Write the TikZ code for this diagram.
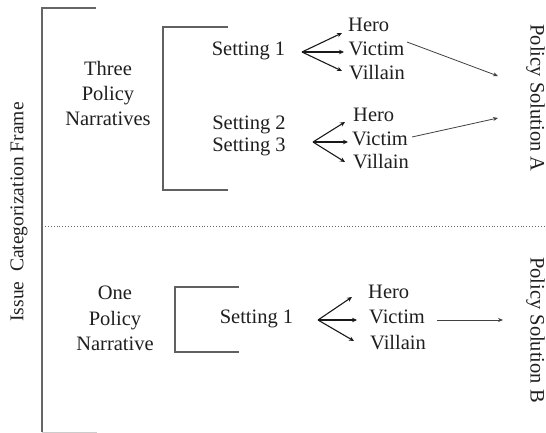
\documentclass[tikz,border=0pt]{standalone}
\usepackage{fontspec}
\setmainfont{Liberation Serif}
\usetikzlibrary{arrows.meta}
\begin{document}
\begin{tikzpicture}[x=1pt,y=-1pt,
  txt/.style={inner sep=0pt, text height=0.66em, text depth=0pt, font=\fontsize{20.5}{24}\selectfont, text=black!88},
  frameline/.style={draw=black!60, line width=1.6pt},
  bracket/.style={draw=black!62, line width=1.3pt},
  sep/.style={draw=black!60, line width=0.9pt, dotted},
  arr/.style={draw=black!90, line width=1.1pt, -{Stealth[length=5pt,width=4.5pt]}},
  longarr/.style={draw=black!75, line width=0.8pt, -{Stealth[length=5pt,width=4pt]}}]
\useasboundingbox (0,0) rectangle (546,433);
% frame
\coordinate (ft) at (96,8);
\coordinate (fc) at (42,8);
\coordinate (fb) at (42,432);
\coordinate (fe) at (97,432);
\draw[frameline] (ft) -- (fc) -- (fb);
\draw[draw=black!20, line width=1pt] (fb) -- (fe);
\node[txt, rotate=90, font=\fontsize{19.5}{24}\selectfont] (icf) at (20,212) {Issue\ \ Categorization Frame};
% separator
\coordinate (sl) at (42,226);
\coordinate (sr) at (546,226);
\draw[sep] (sl) -- (sr);
% upper bracket
\coordinate (ub1) at (228,27);
\coordinate (ub2) at (163,27);
\coordinate (ub3) at (163,190);
\coordinate (ub4) at (228,190);
\draw[bracket] (ub1) -- (ub2) -- (ub3) -- (ub4);
\node[txt] (three) at (108,72) {Three};
\node[txt] (policyA) at (108,97) {Policy};
\node[txt] (narrs) at (108,122) {Narratives};
\node[txt] (set1) at (248.5,52) {Setting 1};
\node[txt] (set2) at (249,126) {Setting 2};
\node[txt] (set3) at (249,148) {Setting 3};
% group 1
\node[txt, anchor=west] (h1) at (348,28) {Hero};
\node[txt, anchor=west] (vc1) at (348.5,52) {Victim};
\node[txt, anchor=west] (vl1) at (349,76) {Villain};
\coordinate (g1s) at (302,52);
\coordinate (g1h) at (342,33);
\coordinate (g1v) at (344,52);
\coordinate (g1l) at (342,71);
\draw[arr] (g1s) -- (g1h);
\draw[arr] (g1s) -- (g1v);
\draw[arr] (g1s) -- (g1l);
% group 2
\node[txt, anchor=west] (h2) at (353,118) {Hero};
\node[txt, anchor=west] (vc2) at (352,142) {Victim};
\node[txt, anchor=west] (vl2) at (353,165) {Villain};
\coordinate (g2s) at (313,142);
\coordinate (g2h) at (345,122);
\coordinate (g2v) at (348,142);
\coordinate (g2l) at (345,162);
\draw[arr] (g2s) -- (g2h);
\draw[arr] (g2s) -- (g2v);
\draw[arr] (g2s) -- (g2l);
% long arrows to A
\coordinate (la1s) at (407,42);
\coordinate (la1e) at (498,76);
\coordinate (la2s) at (412,137);
\coordinate (la2e) at (498,118);
\draw[longarr] (la1s) -- (la1e);
\draw[longarr] (la2s) -- (la2e);
\node[txt, rotate=-90] (psA) at (534,98) {Policy Solution A};
% lower bracket
\coordinate (lb1) at (239,287);
\coordinate (lb2) at (175,287);
\coordinate (lb3) at (175,352);
\coordinate (lb4) at (239,352);
\draw[bracket] (lb1) -- (lb2) -- (lb3) -- (lb4);
\node[txt] (one) at (115,296) {One};
\node[txt] (policyB) at (115,322) {Policy};
\node[txt] (narr) at (115,347) {Narrative};
\node[txt] (set1b) at (256.5,320) {Setting 1};
\node[txt, anchor=west] (h3) at (368,295) {Hero};
\node[txt, anchor=west] (vc3) at (369,320) {Victim};
\node[txt, anchor=west] (vl3) at (370,346) {Villain};
\coordinate (g3s) at (318,320);
\coordinate (g3h) at (352,297);
\coordinate (g3v) at (357,320);
\coordinate (g3l) at (354,341);
\draw[arr] (g3s) -- (g3h);
\draw[arr] (g3s) -- (g3v);
\draw[arr] (g3s) -- (g3l);
\coordinate (la3s) at (437,320);
\coordinate (la3e) at (503,320);
\draw[longarr] (la3s) -- (la3e);
\node[txt, rotate=-90] (psB) at (534,330) {Policy Solution B};
\end{tikzpicture}
\end{document}
